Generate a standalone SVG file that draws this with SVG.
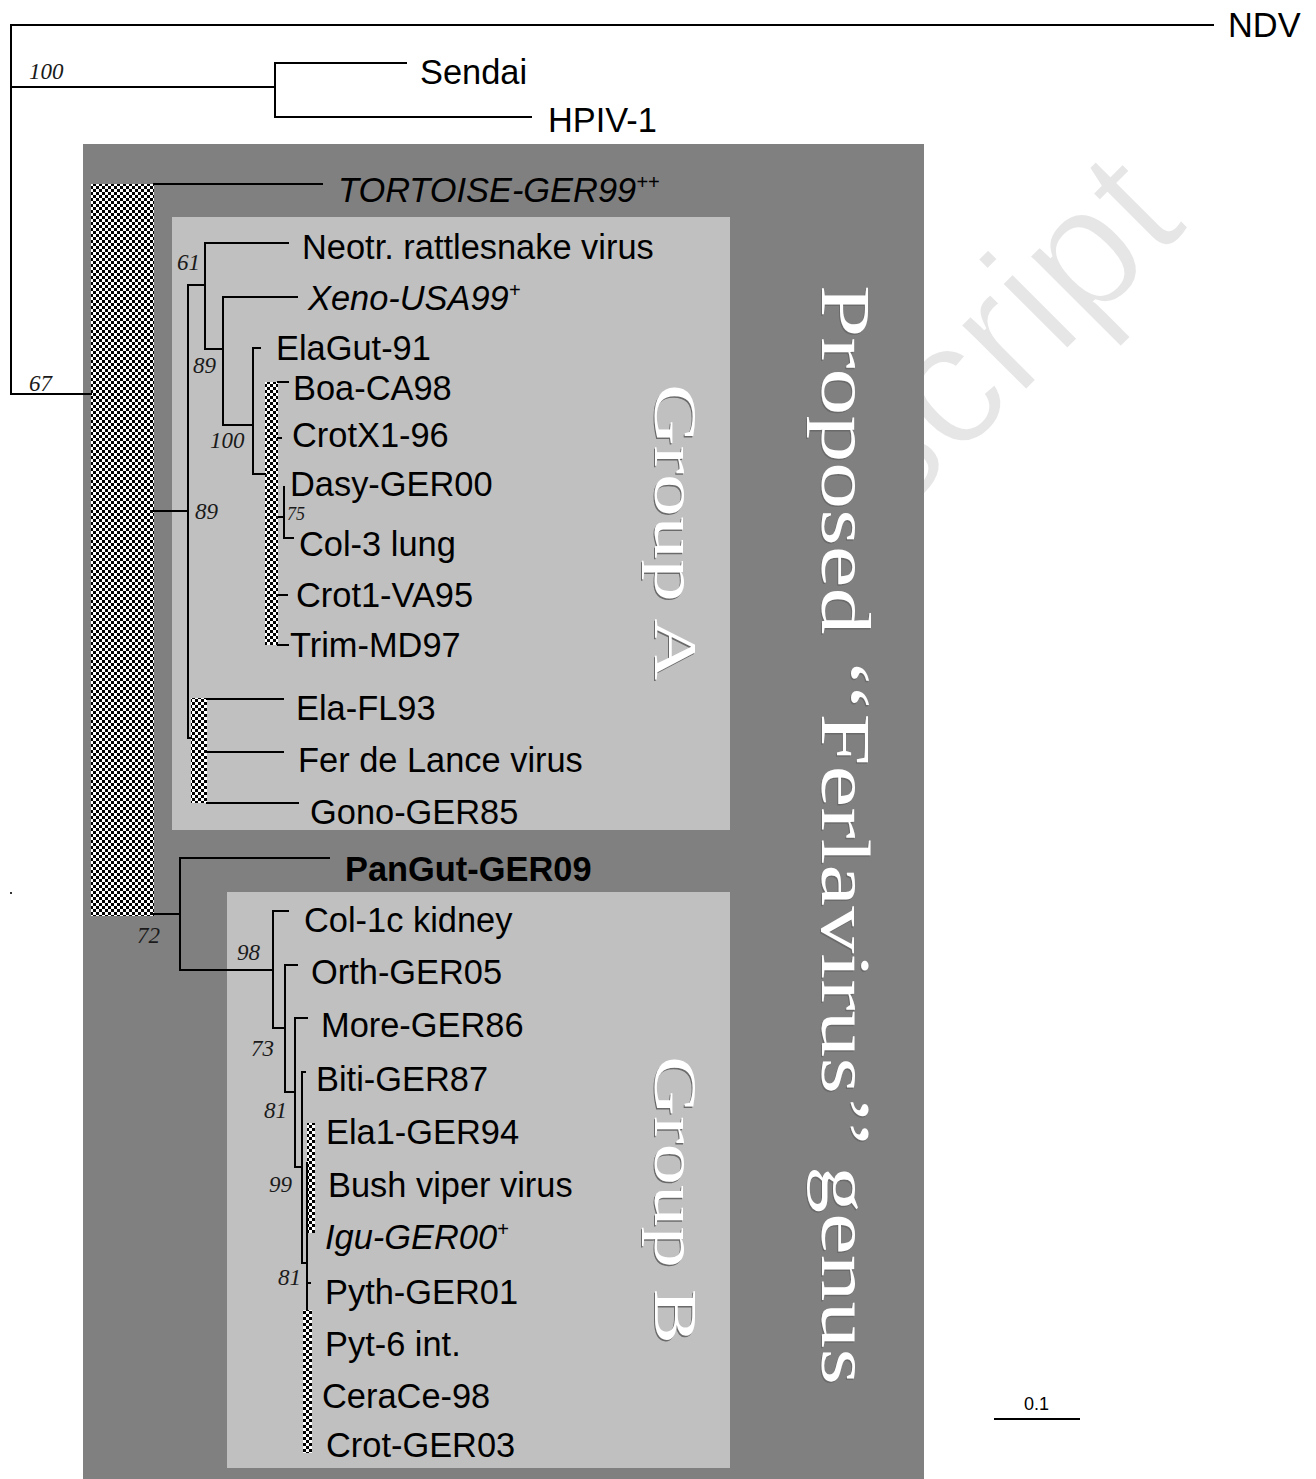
<svg xmlns="http://www.w3.org/2000/svg" width="1316" height="1479" viewBox="0 0 1316 1479">
<style>
.lbl{font-family:"Liberation Sans",Arial,sans-serif;font-size:34.4px;fill:#000}
.it{font-style:italic}
.bold{font-weight:bold}
.bs{font-family:"Liberation Serif","Times New Roman",serif;font-style:italic;font-size:23px;fill:#1a1a1a}
.br{fill:none;stroke:#000;stroke-width:2;stroke-linecap:square}
.vt{font-family:"Liberation Serif","Times New Roman",serif;fill:#fff}
.vs{font-family:"Liberation Serif","Times New Roman",serif;fill:#6a6a6a}
.chk{fill:url(#checker)}
</style>
<defs>
<pattern id="checker" x="0" y="0" width="6" height="6" patternUnits="userSpaceOnUse">
<rect width="6" height="6" fill="#fff"/>
<rect width="3" height="3" fill="#000"/>
<rect x="3" y="3" width="3" height="3" fill="#000"/>
</pattern>
</defs>
<rect width="1316" height="1479" fill="#fff"/>
<text x="0" y="0" transform="translate(893,524) rotate(-45)" font-family="Liberation Sans,Arial,sans-serif" font-size="176" fill="#e6e6e6" stroke="#fff" stroke-width="3">script</text>
<g id="genus-box">
<rect x="83" y="144" width="841" height="1335" fill="#808080"/>
<text class="vs" font-size="70" transform="translate(820.5,286.5) rotate(90)" textLength="1100" lengthAdjust="spacingAndGlyphs">Proposed ‘‘Ferlavirus’’ genus</text>
<text class="vt" font-size="70" transform="translate(822,285) rotate(90)" textLength="1100" lengthAdjust="spacingAndGlyphs">Proposed ‘‘Ferlavirus’’ genus</text>
</g>
<g id="groupA-box">
<rect x="172" y="217" width="558" height="613" fill="#c0c0c0"/>
<text class="vs" font-size="62" transform="translate(653.5,385.5) rotate(90)" textLength="296" lengthAdjust="spacingAndGlyphs">Group A</text>
<text class="vt" font-size="62" transform="translate(655,384) rotate(90)" textLength="296" lengthAdjust="spacingAndGlyphs">Group A</text>
</g>
<g id="groupB-box">
<rect x="227" y="892" width="503" height="576" fill="#c0c0c0"/>
<text class="vs" font-size="62" transform="translate(653.5,1057.5) rotate(90)" textLength="288" lengthAdjust="spacingAndGlyphs">Group B</text>
<text class="vt" font-size="62" transform="translate(655,1056) rotate(90)" textLength="288" lengthAdjust="spacingAndGlyphs">Group B</text>
</g>
<g id="collapsed-clades">
<rect class="chk" x="91" y="184" width="63" height="732"/>
<rect class="chk" x="265" y="382" width="13" height="263"/>
<rect class="chk" x="191" y="698" width="16" height="105"/>
<rect class="chk" x="307" y="1123" width="8" height="110"/>
<rect class="chk" x="303" y="1310" width="9" height="143"/>
</g>
<g id="connectors">
<path class="br" d="M11,25 H1213 M11,25 V394 M11,87 H275 M275,63 V117 M275,63 H406 M275,117 H531 M11,394 H91"/>
<path class="br" d="M154,184 H322"/>
<path class="br" d="M154,511 H188 M188,285 V738 H191 M188,285 H205 M205,243 V349 M205,243 H288 M205,349 H223 M223,297 V425 M223,297 H297 M223,425 H253 M253,348 V474 M253,348 H260 M253,474 H265"/>
<path class="br" d="M278,382 H288 M278,438 H281 M278,517 H284 M284,487 V538 H293 M278,595 H287 M278,645 H288"/>
<path class="br" d="M207,699 H283 M207,752 H283 M207,803 H298"/>
<path class="br" d="M154,914 H180 M180,858 V970 M180,858 H329 M180,970 H273 M273,911 V1028 M273,911 H288 M273,1028 H285 M285,965 V1092 M285,965 H297 M285,1092 H295 M295,1018 V1167 M295,1018 H307 M295,1167 H302 M302,1072 V1263 M302,1072 H305 M302,1263 H307 M307,1163 V1310 M307,1283 H310"/>
<path class="br" d="M995,1419 H1079"/>
</g>
<g id="bootstrap">
<text class="bs" x="29" y="79">100</text>
<text class="bs" x="29" y="391">67</text>
<text class="bs" x="177" y="270">61</text>
<text class="bs" x="193" y="373">89</text>
<text class="bs" x="210" y="448">100</text>
<text class="bs" x="195" y="519">89</text>
<text class="bs" x="287" y="520" style="font-size:18px">75</text>
<text class="bs" x="137" y="943">72</text>
<text class="bs" x="237" y="960">98</text>
<text class="bs" x="251" y="1056">73</text>
<text class="bs" x="264" y="1118">81</text>
<text class="bs" x="269" y="1192">99</text>
<text class="bs" x="278" y="1285">81</text>
</g>
<g id="taxa">
<g id="n-NDV"><text class="lbl" x="1228" y="37">NDV</text></g>
<g id="n-Sendai"><text class="lbl" x="420" y="84">Sendai</text></g>
<g id="n-HPIV1"><text class="lbl" x="548" y="132">HPIV-1</text></g>
<g id="n-Tortoise"><text class="lbl it" x="338" y="202">TORTOISE-GER99<tspan font-size="20" dy="-13">++</tspan></text></g>
<g id="n-Neotr"><text class="lbl" x="302" y="259">Neotr. rattlesnake virus</text></g>
<g id="n-Xeno"><text class="lbl it" x="308" y="310">Xeno-USA99<tspan font-size="20" dy="-13">+</tspan></text></g>
<g id="n-ElaGut"><text class="lbl" x="276" y="360">ElaGut-91</text></g>
<g id="n-Boa"><text class="lbl" x="293" y="400">Boa-CA98</text></g>
<g id="n-CrotX1"><text class="lbl" x="292" y="447">CrotX1-96</text></g>
<g id="n-Dasy"><text class="lbl" x="290" y="496">Dasy-GER00</text></g>
<g id="n-Col3"><text class="lbl" x="299" y="556">Col-3 lung</text></g>
<g id="n-Crot1"><text class="lbl" x="296" y="607">Crot1-VA95</text></g>
<g id="n-Trim"><text class="lbl" x="290" y="657">Trim-MD97</text></g>
<g id="n-ElaFL"><text class="lbl" x="296" y="720">Ela-FL93</text></g>
<g id="n-FerDeLance"><text class="lbl" x="298" y="772">Fer de Lance virus</text></g>
<g id="n-Gono"><text class="lbl" x="310" y="824">Gono-GER85</text></g>
<g id="n-PanGut"><text class="lbl bold" x="345" y="881">PanGut-GER09</text></g>
<g id="n-Col1c"><text class="lbl" x="304" y="932">Col-1c kidney</text></g>
<g id="n-Orth"><text class="lbl" x="311" y="984">Orth-GER05</text></g>
<g id="n-More"><text class="lbl" x="321" y="1037">More-GER86</text></g>
<g id="n-Biti"><text class="lbl" x="316" y="1091">Biti-GER87</text></g>
<g id="n-Ela1"><text class="lbl" x="326" y="1144">Ela1-GER94</text></g>
<g id="n-Bush"><text class="lbl" x="328" y="1197">Bush viper virus</text></g>
<g id="n-Igu"><text class="lbl it" x="325" y="1249">Igu-GER00<tspan font-size="20" dy="-13">+</tspan></text></g>
<g id="n-Pyth"><text class="lbl" x="325" y="1304">Pyth-GER01</text></g>
<g id="n-Pyt6"><text class="lbl" x="325" y="1356">Pyt-6 int.</text></g>
<g id="n-CeraCe"><text class="lbl" x="322" y="1408">CeraCe-98</text></g>
<g id="n-CrotGER03"><text class="lbl" x="326" y="1457">Crot-GER03</text></g>
</g>
<g id="scale-bar"><text x="1024" y="1410" font-family="Liberation Sans,Arial,sans-serif" font-size="18">0.1</text></g>
<rect x="10" y="892" width="2" height="2" fill="#333"/>
</svg>
